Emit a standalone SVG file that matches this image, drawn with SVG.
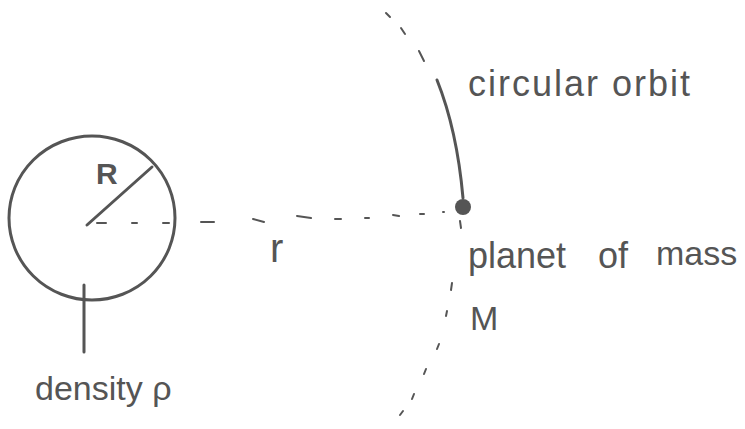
<svg xmlns="http://www.w3.org/2000/svg" width="745" height="429" viewBox="0 0 745 429">
<style>
.ink{stroke:#555;stroke-width:3;fill:none;stroke-linecap:round}
.dash{stroke:#555;stroke-width:2;fill:none;stroke-linecap:round}
.lbl{font-family:"Liberation Sans",Arial,sans-serif;fill:#555}
</style>
<rect width="745" height="429" fill="#fff"/>
<g id="star">
<ellipse class="ink" cx="92" cy="218" rx="83" ry="82"/>
<text class="lbl" x="96" y="184" font-size="30" font-weight="bold">R</text>
</g>
<g id="orbit">
<path class="ink" d="M437,80 Q457,130 463,198"/>
<g class="dash">
<line x1="386" y1="13" x2="390" y2="17"/>
<line x1="401" y1="28" x2="405" y2="34"/>
<line x1="419" y1="51" x2="424" y2="61"/>
<line x1="460" y1="221" x2="461" y2="228"/>
<line x1="452" y1="283" x2="451" y2="290"/>
<line x1="447" y1="311" x2="446" y2="316"/>
<line x1="439" y1="344" x2="437" y2="349"/>
<line x1="426" y1="369" x2="424" y2="374"/>
<line x1="414" y1="394" x2="412" y2="399"/>
<line x1="403" y1="411" x2="400" y2="415"/>
</g>
<text class="lbl" x="468" y="96" font-size="36" textLength="222" lengthAdjust="spacing">circular orbit</text>
</g>
<g id="planet">
<circle cx="463" cy="207" r="8" fill="#555"/>
<text class="lbl" font-size="36" y="268"><tspan x="468">planet</tspan><tspan x="598">of</tspan><tspan x="656" y="265" font-size="34">mass</tspan></text>
<text class="lbl" x="470" y="330" font-size="34">M</text>
</g>
<g id="connectors">
<line class="ink" x1="87" y1="225" x2="152" y2="167"/>
<line class="ink" x1="84" y1="285" x2="84" y2="352"/>
<g class="dash">
<line x1="97" y1="223" x2="106" y2="223"/>
<line x1="132" y1="223" x2="137" y2="223"/>
<line x1="163" y1="223" x2="169" y2="223"/>
<line x1="201" y1="222" x2="214" y2="222"/>
<line x1="253" y1="219" x2="264" y2="222"/>
<line x1="297" y1="216" x2="311" y2="218"/>
<line x1="335" y1="219" x2="341" y2="219"/>
<line x1="365" y1="218" x2="369" y2="218"/>
<line x1="393" y1="215" x2="399" y2="216"/>
<line x1="420" y1="214" x2="424" y2="214"/>
<line x1="443" y1="212" x2="444" y2="212"/>
</g>
<text class="lbl" x="270" y="262" font-size="40">r</text>
</g>
<g id="density">
<text class="lbl" x="35" y="400" font-size="34">density ρ</text>
</g>
</svg>
